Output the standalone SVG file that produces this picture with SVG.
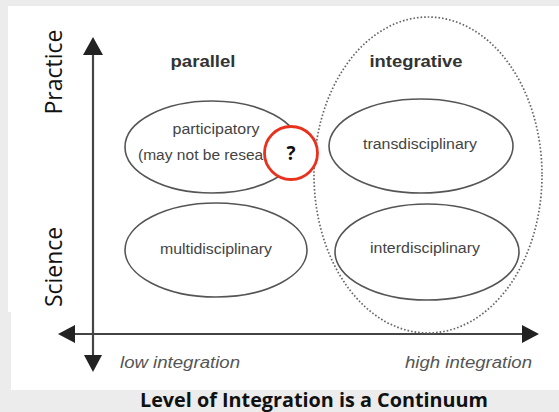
<svg xmlns="http://www.w3.org/2000/svg" width="559" height="412" viewBox="0 0 559 412">
<style>
.ax{stroke:#444;stroke-width:2.2;fill:none}
.el{fill:none;stroke:#555;stroke-width:1.6}
.lbl{font-family:"Liberation Sans",Arial,sans-serif;font-size:14px;fill:#444;text-anchor:middle}
.hd{font-family:"Liberation Sans",Arial,sans-serif;font-size:17px;font-weight:bold;fill:#333;text-anchor:middle}
.it{font-family:"Liberation Sans",Arial,sans-serif;font-size:16px;font-style:italic;fill:#555}
.side{font-family:"Open Sans","Noto Sans",sans-serif;font-size:23px;fill:#111;text-anchor:middle}
</style>
<rect width="559" height="412" fill="#ececec"/>
<rect x="8" y="6" width="551" height="306" fill="#fff"/>
<rect x="11" y="311" width="548" height="79" fill="#fff"/>
<text class="side" transform="translate(62,72) rotate(-90)" textLength="85" lengthAdjust="spacingAndGlyphs">Practice</text>
<text class="side" transform="translate(62,267) rotate(-90)" textLength="80" lengthAdjust="spacingAndGlyphs">Science</text>
<g id="connectors">
<line class="ax" x1="93" y1="50" x2="93" y2="358"/>
<polygon points="93,37 83,55 103,55" fill="#222"/>
<polygon points="93,372 84,355 102,355" fill="#222"/>
<line class="ax" x1="72" y1="334" x2="526" y2="334"/>
<polygon points="58,334 75,325 75,343" fill="#222"/>
<polygon points="539,334 522,325 522,343" fill="#222"/>
</g>
<g id="integrative-group">
<ellipse cx="428" cy="175" rx="114" ry="158" fill="none" stroke="#666" stroke-width="1.7" stroke-dasharray="1.6 2"/>
<text class="hd" x="416" y="67" textLength="93" lengthAdjust="spacingAndGlyphs">integrative</text>
</g>
<g id="parallel-label"><text class="hd" x="203" y="67" textLength="65" lengthAdjust="spacingAndGlyphs">parallel</text></g>
<g id="participatory">
<ellipse class="el" cx="212" cy="147" rx="87" ry="46"/>
<text class="lbl" x="216" y="134" textLength="87" lengthAdjust="spacingAndGlyphs">participatory</text>
<text class="lbl" x="138" y="160" style="text-anchor:start" textLength="152" lengthAdjust="spacingAndGlyphs">(may not be research)</text>
</g>
<g id="question">
<circle cx="291" cy="153" r="26.5" fill="#fff" stroke="#e8321e" stroke-width="2.8"/>
<text x="291" y="160" font-family="'Open Sans','Liberation Sans',sans-serif" font-size="19" font-weight="bold" fill="#111" text-anchor="middle">?</text>
</g>
<g id="transdisciplinary">
<ellipse class="el" cx="421" cy="146" rx="92" ry="47"/>
<text class="lbl" x="420" y="149" textLength="114" lengthAdjust="spacingAndGlyphs">transdisciplinary</text>
</g>
<g id="multidisciplinary">
<ellipse class="el" cx="216" cy="250" rx="91" ry="47"/>
<text class="lbl" x="216" y="254" textLength="112" lengthAdjust="spacingAndGlyphs">multidisciplinary</text>
</g>
<g id="interdisciplinary">
<ellipse class="el" cx="427" cy="252" rx="92" ry="48"/>
<text class="lbl" x="425" y="253" textLength="110" lengthAdjust="spacingAndGlyphs">interdisciplinary</text>
</g>
<text class="it" x="120" y="368" textLength="120" lengthAdjust="spacingAndGlyphs">low integration</text>
<text class="it" x="405" y="368" textLength="127" lengthAdjust="spacingAndGlyphs">high integration</text>
<text x="140" y="407" font-family="'Open Sans','Noto Sans',sans-serif" font-size="19" font-weight="bold" fill="#111" textLength="348" lengthAdjust="spacingAndGlyphs">Level of Integration is a Continuum</text>
</svg>
